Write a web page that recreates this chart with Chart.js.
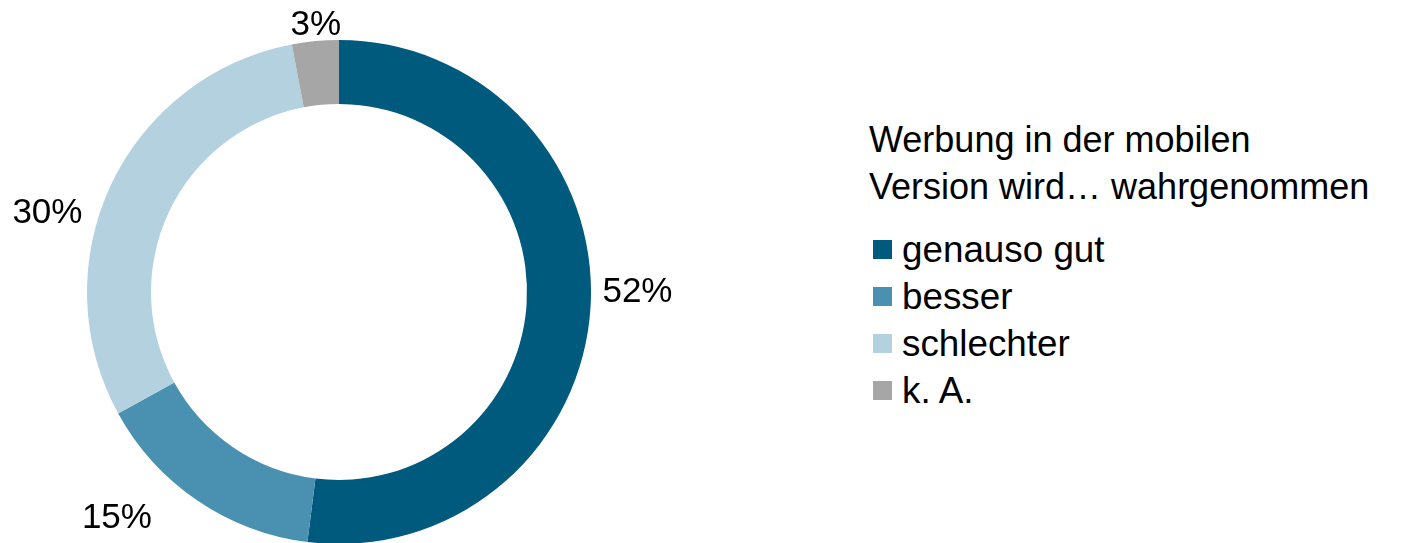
<!DOCTYPE html>
<html>
<head>
<meta charset="utf-8">
<script src="https://cdn.jsdelivr.net/npm/chart.js@4"></script>
<style>
  html, body { margin: 0; padding: 0; width: 1404px; height: 543px; overflow: hidden; background: #fff; }
  #chartBox { position: absolute; left: 0; top: 0; width: 678px; height: 584px; }
  #legend { position: absolute; left: 869px; top: 116px; font-family: "Liberation Sans", Arial, sans-serif; font-size: 36px; line-height: 47px; color: #000; }
  #legend .title div { white-space: nowrap; }
  #legend .items { margin-top: 16px; }
  #legend .item { position: relative; white-space: nowrap; padding-left: 33px; font-size: 36.8px; }
  #legend .sw { position: absolute; left: 4px; top: 14px; width: 19px; height: 19px; }
</style>
</head>
<body>
<div id="chartBox"><canvas id="c"></canvas></div>
<div id="legend"></div>
<script>
const categories = ["genauso gut", "besser", "schlechter", "k. A."];
const values = [52, 15, 30, 3];
const colors = ["#005A7E", "#4A90B0", "#B3D1DF", "#A6A6A6"];
const legendTitle = ["Werbung in der mobilen", "Version wird\u2026 wahrgenommen"];

const labelPlugin = {
  id: 'outLabels',
  afterDatasetsDraw(chart, args, opts) {
    const ctx = chart.ctx;
    const meta = chart.getDatasetMeta(0);
    const size = opts.size;
    ctx.save();
    ctx.font = size + 'px "Liberation Sans", Arial, sans-serif';
    ctx.fillStyle = '#000';
    ctx.textAlign = 'center';
    ctx.textBaseline = 'alphabetic';
    meta.data.forEach((arc, i) => {
      const p = arc.getProps(['x', 'y', 'startAngle', 'endAngle', 'outerRadius'], true);
      const mid = (p.startAngle + p.endAngle) / 2;
      const text = values[i] + '%';
      const w = ctx.measureText(text).width;
      const h = size * 0.716;
      const r = p.outerRadius + opts.gap;
      const c = Math.cos(mid), s = Math.sin(mid);
      let cx = p.x + r * c + (w / 2) * c;
      let cy = p.y + r * s + (h / 2) * s;
      const n = opts.nudge[i] || [0, 0];
      cx += n[0]; cy += n[1];
      ctx.fillText(text, cx, cy + h / 2);
    });
    ctx.restore();
  }
};

new Chart(document.getElementById('c'), {
  type: 'doughnut',
  data: {
    labels: categories,
    datasets: [{
      data: values,
      backgroundColor: colors,
      borderWidth: 0,
      radius: 252
    }]
  },
  options: {
    responsive: true,
    maintainAspectRatio: false,
    animation: false,
    cutout: '74.6%',
    layout: { padding: 0 },
    plugins: {
      legend: { display: false },
      tooltip: { enabled: false },
      outLabels: { size: 35, gap: 12, nudge: [[0, -20], [-54, -5], [-21, 36], [4, 6]] }
    }
  },
  plugins: [labelPlugin]
});

const lg = document.getElementById('legend');
const t = document.createElement('div');
t.className = 'title';
legendTitle.forEach(line => { const d = document.createElement('div'); d.textContent = line; t.appendChild(d); });
lg.appendChild(t);
const items = document.createElement('div');
items.className = 'items';
categories.forEach((cat, i) => {
  const it = document.createElement('div');
  it.className = 'item';
  const sw = document.createElement('span');
  sw.className = 'sw';
  sw.style.background = colors[i];
  it.appendChild(sw);
  it.appendChild(document.createTextNode(cat));
  items.appendChild(it);
});
lg.appendChild(items);
</script>
</body>
</html>
